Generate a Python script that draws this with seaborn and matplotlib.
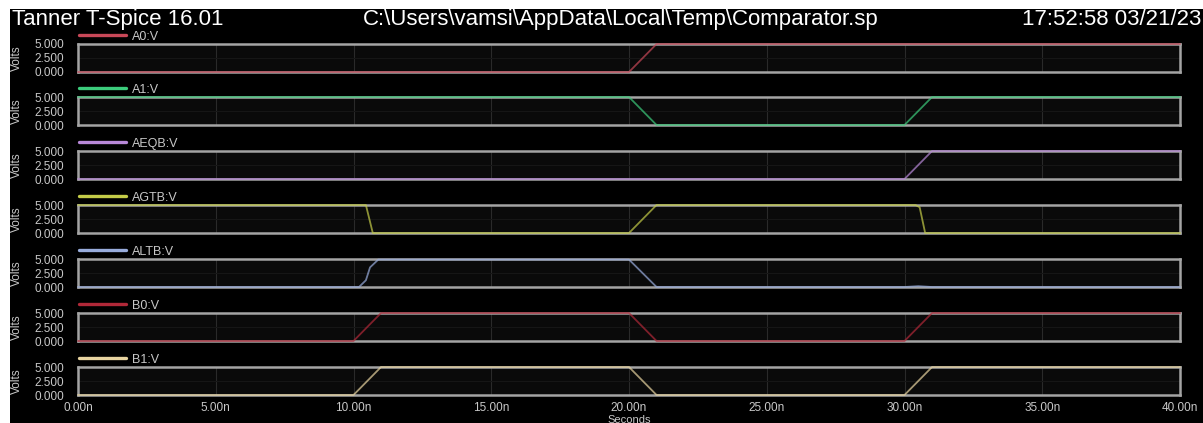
import matplotlib
matplotlib.use("Agg")
import matplotlib.pyplot as plt
import seaborn as sns
import pandas as pd
from matplotlib.patches import Rectangle

sns.set_style("dark")
plt.rcParams['font.family'] = ['Liberation Sans', 'DejaVu Sans']

# ---- data (times in ns, values in volts) ----
signal_names = ["A0:V", "A1:V", "AEQB:V", "AGTB:V", "ALTB:V", "B0:V", "B1:V"]
A0_t = [0, 20.0, 21.0, 40]
A0_v = [0, 0, 5, 5]
A1_t = [0, 20.0, 21.0, 30.0, 31.0, 40]
A1_v = [5, 5, 0, 0, 5, 5]
AEQB_t = [0, 30.0, 31.0, 40]
AEQB_v = [0, 0, 5, 5]
AGTB_t = [0, 10.45, 10.7, 20.0, 21.0, 30.4, 30.55, 30.75, 40]
AGTB_v = [5, 5, 0, 0, 5, 5, 4.6, 0, 0]
ALTB_t = [0, 10.2, 10.45, 10.6, 10.9, 20.0, 21.0, 30.0, 30.5, 31.0, 40]
ALTB_v = [0, 0, 1.2, 3.5, 4.9, 4.9, 0, 0, 0.15, 0, 0]
B0_t = [0, 10.0, 11.0, 20.0, 21.0, 30.0, 31.0, 40]
B0_v = [0, 0, 5, 5, 0, 0, 5, 5]
B1_t = [0, 10.0, 11.0, 20.0, 21.0, 30.0, 31.0, 40]
B1_v = [0, 0, 5, 5, 0, 0, 5, 5]

series_t = [A0_t, A1_t, AEQB_t, AGTB_t, ALTB_t, B0_t, B1_t]
series_v = [A0_v, A1_v, AEQB_v, AGTB_v, ALTB_v, B0_v, B1_v]
colors = ["#c84858", "#3ccc7c", "#b888d8", "#c4cc48", "#98acdc", "#b02838", "#e8d4a0"]

x_ticks = [0, 5, 10, 15, 20, 25, 30, 35, 40]
x_ticklabels = ["0.00n", "5.00n", "10.00n", "15.00n", "20.00n", "25.00n", "30.00n", "35.00n", "40.00n"]
y_ticks = [0, 2.5, 5]
y_ticklabels = ["0.000", "2.500", "5.000"]

W, H = 1203, 423
fig = plt.figure(figsize=(W / 100, H / 100), dpi=100, facecolor="white")
bg = Rectangle((10 / W, 0), 1 - 10 / W, 1 - 9 / H, transform=fig.transFigure,
               facecolor="black", edgecolor="none", zorder=-10)
fig.add_artist(bg)

left_px, right_px = 78, 1180
tops = [44, 97, 151, 205, 259, 313, 367]
ph = 28
txtc = "#c8c8c8"

for i, name in enumerate(signal_names):
    top = tops[i]
    ax = fig.add_axes([left_px / W, 1 - (top + ph) / H, (right_px - left_px) / W, ph / H])
    ax.set_facecolor("#0a0a0a")
    df = pd.DataFrame({"t": series_t[i], "v": series_v[i]})
    sns.lineplot(data=df, x="t", y="v", ax=ax, color=colors[i], linewidth=1.3,
                 label=name, alpha=0.7, zorder=3, clip_on=False)
    ax.set_xlim(0, 40)
    ax.set_ylim(0, 5)
    ax.set_xticks(x_ticks)
    ax.set_yticks(y_ticks)
    ax.set_yticklabels(y_ticklabels, fontsize=8.5, color=txtc)
    ax.tick_params(axis="y", length=0, pad=10)
    ax.tick_params(axis="x", length=0)
    ax.grid(True, axis="x", color="#2a2a2a", linewidth=0.8)
    ax.grid(True, axis="y", color="#161616", linewidth=0.8)
    for s in ax.spines.values():
        s.set_visible(True)
        s.set_color("#a4a4a4")
        s.set_linewidth(1.8)
    ax.set_ylabel("Volts", fontsize=8.5, color=txtc)
    ax.yaxis.set_label_coords((23 - left_px) / (right_px - left_px), 0.5)
    ax.set_xlabel("")
    if i == len(signal_names) - 1:
        ax.set_xticklabels(x_ticklabels, fontsize=8.5, color=txtc)
        ax.tick_params(axis="x", pad=5)
        ax.set_xlabel("Seconds", fontsize=8, color=txtc, labelpad=1)
    else:
        ax.set_xticklabels([])
    leg = ax.legend(loc="lower left", bbox_to_anchor=(0.0, 1.0), frameon=False,
                    fontsize=9, handlelength=3.75, handletextpad=0.45, borderpad=0.1,
                    borderaxespad=0.0)
    for txt in leg.get_texts():
        txt.set_color(txtc)
    for ln in leg.get_lines():
        ln.set_linewidth(2.4)
        ln.set_alpha(1)

fig.text(12 / W, 1 - 25 / H, "Tanner T-Spice 16.01", fontsize=16, color="white",
         ha="left", va="baseline")
fig.text(621 / W, 1 - 25 / H, "C:\\Users\\vamsi\\AppData\\Local\\Temp\\Comparator.sp",
         fontsize=16, color="white", ha="center", va="baseline")
fig.text(1201 / W, 1 - 25 / H, "17:52:58 03/21/23", fontsize=16, color="white",
         ha="right", va="baseline")

fig.savefig("out.png", dpi=100, facecolor=fig.get_facecolor())
